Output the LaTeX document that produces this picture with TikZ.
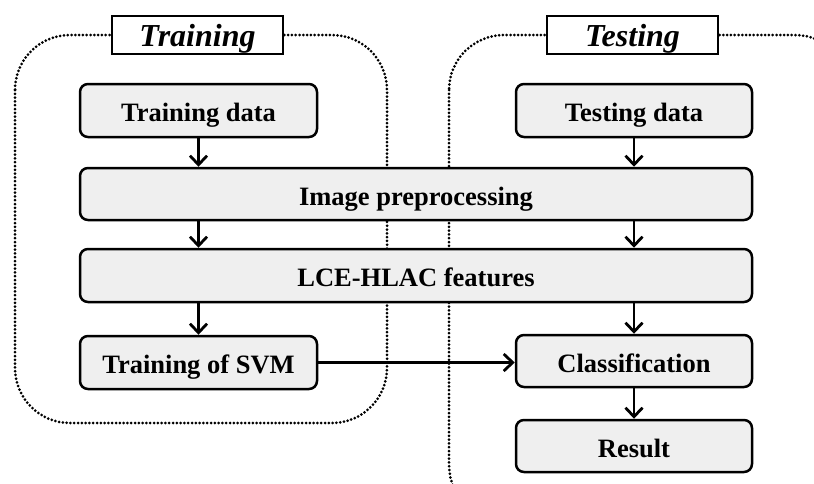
\documentclass[tikz,border=0pt]{standalone}
\usepackage{fontspec}
\setmainfont{Liberation Serif}
\usetikzlibrary{arrows.meta}
\definecolor{boxfill}{HTML}{EFEFEF}
\tikzset{
  x=1pt, y=-1pt,
  stage/.style={draw, line width=2.5pt, rounded corners=8pt, fill=boxfill,
    inner sep=0pt, text height=22pt, text depth=0pt,
    font=\fontsize{26.5}{30}\selectfont\bfseries},
  phase/.style={draw, line width=2.5pt, fill=white, inner sep=0pt,
    minimum width=171pt, minimum height=38pt, text height=22pt, text depth=0pt,
    font=\fontsize{32}{36}\selectfont\bfseries\itshape},
  group/.style={line width=3pt, dash pattern=on 0pt off 3.8pt, line cap=round,
    rounded corners=55pt},
  flow/.style={line width=2.8pt, -{Straight Barb[length=9pt,width=17pt,line width=2.8pt]}}
}
\begin{document}
\begin{tikzpicture}
\useasboundingbox (0,0) rectangle (814,483);
\clip (0,0) rectangle (814,483);
\fill[white] (0,0) rectangle (814,483);

% dotted group frames
\draw[group] (15,35) rectangle (387,423);
\draw[group] (449,35) rectangle (850,520);

% phase titles
\node[phase] (trl) at (197.5,35) {Training};
\node[phase] (tel) at (632.5,35) {Testing};

% processing stages
\node[stage, minimum width=237pt, minimum height=53pt] (trd) at (198.5,110.5) {Training data};
\node[stage, minimum width=236pt, minimum height=53pt] (ted) at (634,110.5) {Testing data};
\node[stage, minimum width=672pt, minimum height=52pt] (pre) at (416,194) {Image preprocessing};
\node[stage, minimum width=672pt, minimum height=53pt] (lce) at (416,275.5) {LCE-HLAC features};
\node[stage, minimum width=237pt, minimum height=53pt] (svm) at (198.5,362.5) {Training of SVM};
\node[stage, minimum width=236pt, minimum height=52pt] (cls) at (634,361) {Classification};
\node[stage, minimum width=236pt, minimum height=52pt] (res) at (634,446) {Result};

% connectors
\draw[flow] (trd.south) -- (trd.south |- pre.north);
\draw[flow] (ted.south) -- (ted.south |- pre.north);
\draw[flow] (pre.south -| trd.south) -- (lce.north -| trd.south);
\draw[flow] (pre.south -| ted.south) -- (lce.north -| ted.south);
\draw[flow] (lce.south -| svm.north) -- (svm.north);
\draw[flow] (lce.south -| cls.north) -- (cls.north);
\draw[flow] (cls.south) -- (res.north);
\draw[flow] (svm.east) -- (svm.east -| cls.west);
\end{tikzpicture}
\end{document}
